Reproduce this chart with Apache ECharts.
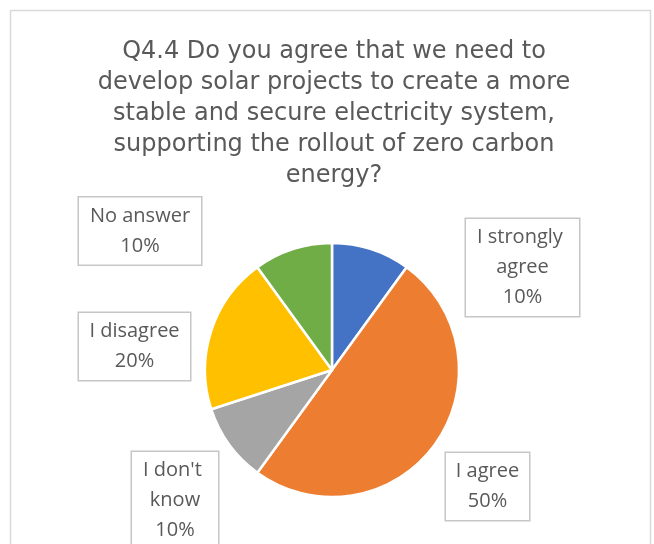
<!DOCTYPE html>
<html>
<head>
<meta charset="utf-8">
<script src="https://cdn.jsdelivr.net/npm/echarts@6/dist/echarts.min.js"></script>
<style>
  html, body { margin: 0; padding: 0; background: #ffffff; }
  #chart { width: 654px; height: 544px; }
</style>
</head>
<body>
<div id="chart"></div>
<script>
// Survey question shown as the chart heading
const titleLines = [
  'Q4.4 Do you agree that we need to',
  'develop solar projects to create a more',
  'stable and secure electricity system,',
  'supporting the rollout of zero carbon',
  'energy?'
];

// Answer categories and their share of responses (%)
const categories = ['I strongly agree', 'I agree', "I don't know", 'I disagree', 'No answer'];
const shares = [10, 50, 10, 20, 10];
const sliceColors = ['#4472C4', '#ED7D31', '#A5A5A5', '#FFC000', '#70AD47'];

// Label callout boxes: centre point and text width for each category
const labelBoxes = [
  { cx: 522.5, cy: 267.5, w: 97 },
  { cx: 487.5, cy: 486.5, w: 67 },
  { cx: 175,   cy: 500.5, w: 70 },
  { cx: 134.5, cy: 346.5, w: 95 },
  { cx: 140,   cy: 231,   w: 106 }
];

const chart = echarts.init(document.getElementById('chart'), null, { renderer: 'canvas' });

const pieData = categories.map((name, i) => ({
  name: name,
  value: shares[i],
  itemStyle: { color: sliceColors[i] },
  label: { width: labelBoxes[i].w }
}));

chart.setOption({
  animation: false,
  backgroundColor: '#ffffff',
  graphic: [{
    type: 'rect',
    shape: { x: 10.5, y: 10.5, width: 640, height: 620 },
    style: { fill: 'none', stroke: '#D9D9D9', lineWidth: 1.5 },
    silent: true
  }],
  title: {
    text: titleLines.join('\n'),
    left: 329,
    top: 31,
    textAlign: 'center',
    textStyle: {
      fontFamily: '"DejaVu Sans", sans-serif',
      fontSize: 24,
      fontWeight: 'normal',
      color: '#595959',
      lineHeight: 31,
      align: 'center'
    }
  },
  series: [{
    type: 'pie',
    center: [332, 370],
    radius: 127,
    startAngle: 90,
    clockwise: true,
    data: pieData,
    itemStyle: { borderColor: '#ffffff', borderWidth: 2.5 },
    emphasis: { disabled: true },
    labelLine: { show: false },
    label: {
      show: true,
      position: 'outside',
      formatter: '{b}\n{d}%',
      fontFamily: '"Open Sans", sans-serif',
      fontSize: 20,
      lineHeight: 30,
      color: '#595959',
      align: 'center',
      overflow: 'break',
      backgroundColor: '#ffffff',
      borderColor: '#C6C6C6',
      borderWidth: 1.5,
      padding: [3.5, 8]
    },
    labelLayout: function (params) {
      const b = labelBoxes[params.dataIndex];
      return { x: b.cx, y: b.cy, align: 'center', verticalAlign: 'middle', hideOverlap: false };
    }
  }]
});
</script>
</body>
</html>
